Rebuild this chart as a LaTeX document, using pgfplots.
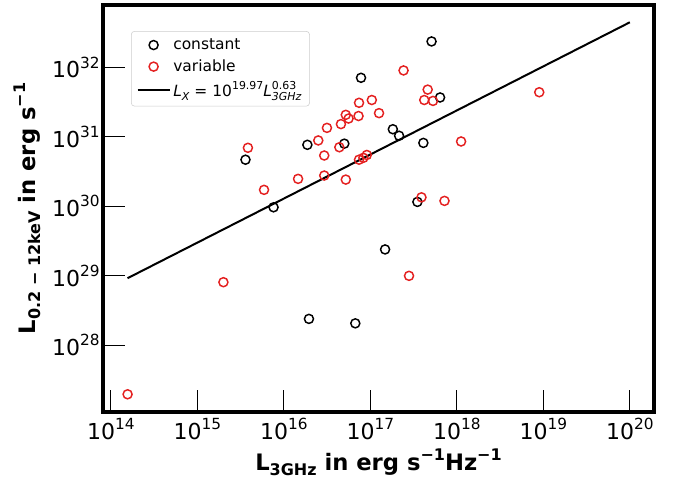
\documentclass[border=0pt]{standalone}
\usepackage{fontspec}
\setmainfont{DejaVu Sans}
\usepackage{pgfplots}
\pgfplotsset{compat=1.18}

\definecolor{varred}{RGB}{228,32,32}

% tick labels of the form 10^n, set in the text font
\newcommand\tl[1]{10\raisebox{0.45em}{\fontsize{11.5}{11.5}\selectfont #1}}
% sub- and superscripts for the axis labels
\newcommand\lsub[1]{\raisebox{-0.22em}{\fontsize{12}{12}\selectfont #1}}
\newcommand\lsup[1]{\raisebox{0.45em}{\fontsize{12}{12}\selectfont #1}}
% sub- and superscripts for the legend
\newcommand\gsub[1]{\raisebox{-0.25em}{\fontsize{8.2}{8.2}\selectfont #1}}
\newcommand\gsup[1]{\raisebox{0.45em}{\fontsize{8.2}{8.2}\selectfont #1}}

\begin{document}
\begin{tikzpicture}
\path[use as bounding box] (-77.25pt,-50.25pt) rectangle (432.75pt,309pt);
\begin{axis}[
  at={(0,0)}, anchor=south west,
  scale only axis, width=413.25pt, height=305.25pt,
  xmode=log, ymode=log,
  xmin=8.11e13, xmax=1.905e20, ymin=1.096e27, ymax=7.94e32,
  xminorticks=false, yminorticks=false,
  axis line style={line width=2.3pt},
  tick pos=left, tick align=inside,
  major tick length=16.5pt,
  tick style={line width=0.8pt, black},
  xtick={1e14,1e15,1e16,1e17,1e18,1e19,1e20},
  xticklabels={\tl{14},\tl{15},\tl{16},\tl{17},\tl{18},\tl{19},\tl{20}},
  ytick={1e28,1e29,1e30,1e31,1e32},
  yticklabels={\tl{28},\tl{29},\tl{30},\tl{31},\tl{32}},
  tick label style={font=\fontsize{16.5}{18}\selectfont},
  xticklabel style={yshift=-1pt},
  yticklabel style={xshift=1pt},
  label style={font=\fontsize{17}{20}\selectfont\bfseries},
  xlabel={L\lsub{3GHz} in erg s\lsup{−1}Hz\lsup{−1}},
  ylabel={L\lsub{0.2 − 12keV} in erg s\lsup{−1}},
  ylabel style={yshift=1.5pt},
  legend cell align=left,
  legend style={at={(0.0508,0.936)}, anchor=north west,
    draw=black!20, rounded corners=2.5pt, fill=white,
    font=\fontsize{11.6}{13}\selectfont,
    inner xsep=4pt, inner ysep=3.5pt, row sep=2.2pt,
    /tikz/every even column/.append style={column sep=7pt}},
]
% sources with a constant X-ray flux
\addplot[only marks, mark=o, mark size=3.4pt, black, line width=1.1pt,
  legend image code/.code={\draw plot[mark=o] coordinates {(12pt,0pt)};}]
  coordinates {
  (3.6e15,4.7e30) (7.6e15,9.7e29) (1.87e16,7.7e30) (5.0e16,8.0e30)
  (7.8e16,7.1e31) (1.82e17,1.29e31) (2.15e17,1.04e31) (4.1e17,8.2e30)
  (5.1e17,2.37e32) (6.4e17,3.7e31) (3.5e17,1.16e30) (1.48e17,2.4e29)
  (1.95e16,2.4e28) (6.7e16,2.07e28)
};
\addlegendentry{constant}
% sources with a variable X-ray flux
\addplot[only marks, mark=o, mark size=3.4pt, varred, line width=1.1pt,
  legend image code/.code={\draw plot[mark=o] coordinates {(12pt,0pt)};}]
  coordinates {
  (1.56e14,1.97e27) (2.0e15,8.1e28) (3.84e15,6.97e30) (5.9e15,1.73e30)
  (1.46e16,2.49e30) (2.5e16,8.9e30) (2.93e16,5.4e30) (3.15e16,1.35e31)
  (4.38e16,7.1e30) (4.57e16,1.53e31) (5.2e16,2.08e31) (5.6e16,1.84e31)
  (2.93e16,2.78e30) (5.2e16,2.43e30) (7.4e16,3.1e31) (1.04e17,3.4e31)
  (7.3e16,2.0e31) (1.26e17,2.2e31) (7.4e16,4.7e30) (8.3e16,5.0e30)
  (9.1e16,5.5e30) (2.42e17,9.06e31) (4.6e17,4.8e31) (4.2e17,3.4e31)
  (5.3e17,3.3e31) (8.97e18,4.4e31) (1.12e18,8.6e30) (3.9e17,1.35e30)
  (7.2e17,1.2e30) (2.8e17,1.0e29)
};
\addlegendentry{variable}
% power-law fit
\addplot[black, line width=1.5pt, no marks,
  legend image code/.code={\draw (0pt,0pt) -- (24pt,0pt);}]
  coordinates {(1.56e14,9.25e28) (1e20,4.47e32)};
\addlegendentry{\textit{L}\gsub{\textit{X}} = 10\gsup{19.97}\textit{L}\rlap{\gsup{0.63}}\gsub{\textit{3GHz}}}
\end{axis}
\end{tikzpicture}
\end{document}
